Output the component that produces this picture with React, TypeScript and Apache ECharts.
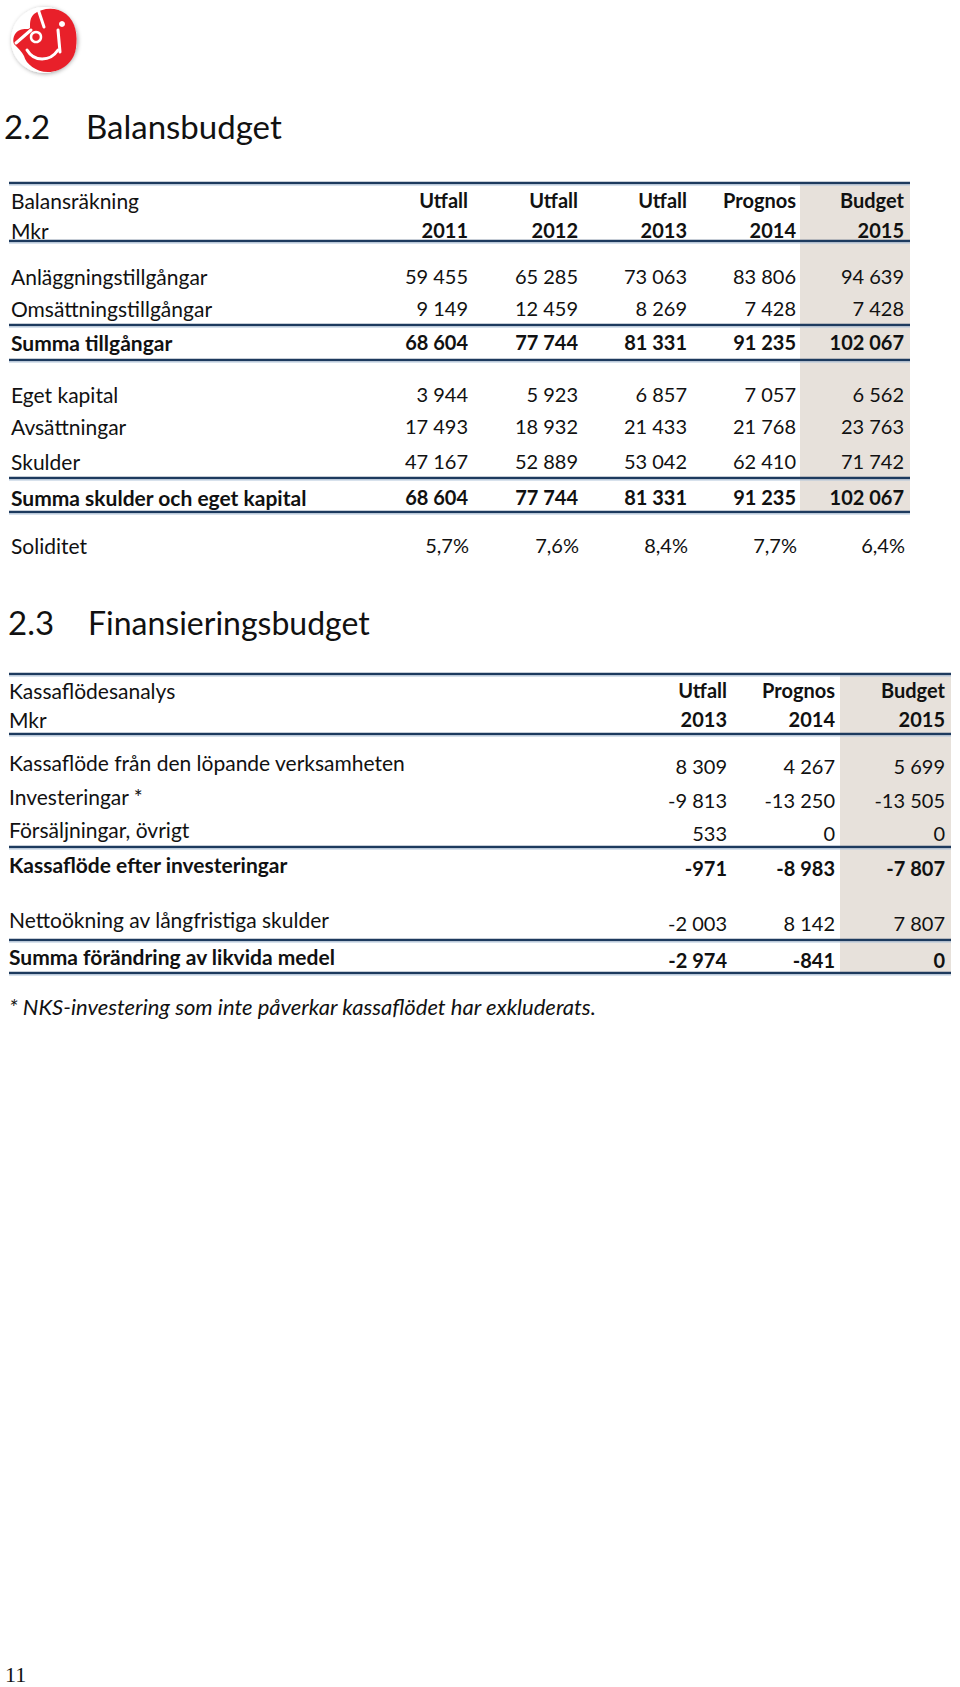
import React, { useEffect, useRef } from 'react';
import * as echarts from 'echarts';

// ---------- Data ----------
const balansNumber = '2.2';
const balansHeading = 'Balansbudget';
const balansCaption = ['Balansräkning', 'Mkr'];
const balansColTop = ['Utfall', 'Utfall', 'Utfall', 'Prognos', 'Budget'];
const balansColYear = ['2011', '2012', '2013', '2014', '2015'];
const balansLabels = [
  'Anläggningstillgångar',
  'Omsättningstillgångar',
  'Summa tillgångar',
  'Eget kapital',
  'Avsättningar',
  'Skulder',
  'Summa skulder och eget kapital',
];
const balansBold = [false, false, true, false, false, false, true];
const anlaggning = [59455, 65285, 73063, 83806, 94639];
const omsattning = [9149, 12459, 8269, 7428, 7428];
const summaTillgangar = [68604, 77744, 81331, 91235, 102067];
const egetKapital = [3944, 5923, 6857, 7057, 6562];
const avsattningar = [17493, 18932, 21433, 21768, 23763];
const skulder = [47167, 52889, 53042, 62410, 71742];
const summaSkulder = [68604, 77744, 81331, 91235, 102067];
const soliditetLabel = 'Soliditet';
const soliditet = [5.7, 7.6, 8.4, 7.7, 6.4];

const finansNumber = '2.3';
const finansHeading = 'Finansieringsbudget';
const finansCaption = ['Kassaflödesanalys', 'Mkr'];
const finansColTop = ['Utfall', 'Prognos', 'Budget'];
const finansColYear = ['2013', '2014', '2015'];
const finansLabels = [
  'Kassaflöde från den löpande verksamheten',
  'Investeringar *',
  'Försäljningar, övrigt',
  'Kassaflöde efter investeringar',
  'Nettoökning av långfristiga skulder',
  'Summa förändring av likvida medel',
];
const finansBold = [false, false, false, true, false, true];
const lopande = [8309, 4267, 5699];
const investeringar = [-9813, -13250, -13505];
const forsaljningar = [533, 0, 0];
const efterInvesteringar = [-971, -8983, -7807];
const nettookning = [-2003, 8142, 7807];
const summaForandring = [-2974, -841, 0];
const footnote = '* NKS-investering som inte påverkar kassaflödet har exkluderats.';
const pageNumber = '11';

// ---------- Layout ----------
const FONT = 'Lato, "Open Sans", sans-serif';
const INK = '#111111';
const SHADE = '#E7E1DB';
const RULE_DARK = '#1D3A5E';
const RULE_LIGHT = '#AFC3DA';
const LABEL_SIZE = 21;
const NUM_SIZE = 20;

const t1 = {
  left: 9,
  right: 910,
  labelX: 11,
  colRight: [468, 578, 687, 796, 904],
  shadeX: 800,
  rules: [183, 241, 325, 360, 478, 512],
  headY: [200, 230],
  rowY: [276, 308, 342, 394, 426, 461, 497],
  solY: 545,
};
const t2 = {
  left: 9,
  right: 951,
  labelX: 9,
  colRight: [727, 835, 945],
  shadeX: 840,
  rules: [674, 734, 847, 940, 973],
  headY: [690, 719],
  rowY: [766, 800, 833, 868, 923, 960],
  labelShift: -4,
};

function fmt(v: number): string {
  const neg = v < 0;
  const s = String(Math.abs(v)).replace(/\B(?=(\d{3})+(?!\d))/g, ' ');
  return (neg ? '-' : '') + s;
}
function pct(v: number): string {
  return v.toFixed(1).replace('.', ',') + '%';
}

function txt(x: number, y: number, text: string, opts: any = {}) {
  const align = opts.align || 'left';
  return {
    type: 'text',
    x,
    y,
    silent: true,
    style: {
      text,
      fill: opts.fill || INK,
      fontSize: opts.size || NUM_SIZE,
      fontFamily: opts.family || FONT,
      fontWeight: opts.bold ? 'bold' : 'normal',
      fontStyle: opts.italic ? 'italic' : 'normal',
      align,
      textAlign: align,
      verticalAlign: 'middle',
      textVerticalAlign: 'middle',
    },
  };
}

function rule(x1: number, x2: number, y: number) {
  return [
    {
      type: 'line',
      silent: true,
      shape: { x1, y1: y, x2, y2: y },
      style: { stroke: RULE_DARK, lineWidth: 2.5 },
    },
    {
      type: 'line',
      silent: true,
      shape: { x1, y1: y + 2, x2, y2: y + 2 },
      style: { stroke: RULE_LIGHT, lineWidth: 1 },
    },
  ];
}

function buildElements() {
  const els: any[] = [];

  // Logo (simplified rose)
  els.push({
    type: 'circle',
    silent: true,
    shape: { cx: 44, cy: 40, r: 33 },
    style: { fill: '#ffffff', shadowBlur: 4, shadowColor: 'rgba(0,0,0,0.35)', shadowOffsetX: 1, shadowOffsetY: 1 },
  });
  els.push({
    type: 'rose',
    silent: true,
    x: 12,
    y: 6,
    scaleX: 1,
    scaleY: 1,
    style: { fill: '#E8202A' },
  });
  const white = { stroke: '#ffffff', lineWidth: 3, fill: 'none', lineCap: 'round' };
  els.push({ type: 'bezierCurve', silent: true, shape: { x1: 27, y1: 50, cpx1: 34, cpy1: 62, cpx2: 50, cpy2: 62, x2: 58, y2: 50 }, style: white });
  els.push({ type: 'line', silent: true, shape: { x1: 58, y1: 30, x2: 60, y2: 52 }, style: white });
  els.push({ type: 'line', silent: true, shape: { x1: 16, y1: 43, x2: 31, y2: 30 }, style: white });
  els.push({ type: 'line', silent: true, shape: { x1: 38, y1: 9, x2: 44, y2: 27 }, style: white });
  els.push({ type: 'circle', silent: true, shape: { cx: 36, cy: 37, r: 5 }, style: { stroke: '#ffffff', lineWidth: 2.5, fill: '#E8202A' } });
  els.push({ type: 'circle', silent: true, shape: { cx: 62, cy: 24, r: 3 }, style: { fill: '#ffffff' } });

  // ---------- Section 2.2 ----------
  els.push(txt(4, 126, balansNumber, { size: 33 }));
  els.push(txt(86, 126, balansHeading, { size: 33 }));

  els.push({
    type: 'rect',
    silent: true,
    shape: { x: t1.shadeX, y: t1.rules[0], width: t1.right - t1.shadeX, height: t1.rules[t1.rules.length - 1] - t1.rules[0] },
    style: { fill: SHADE },
  });
  t1.rules.forEach((y) => els.push(...rule(t1.left, t1.right, y)));

  els.push(txt(t1.labelX, t1.headY[0], balansCaption[0], { size: LABEL_SIZE }));
  els.push(txt(t1.labelX, t1.headY[1], balansCaption[1], { size: LABEL_SIZE }));
  balansColTop.forEach((h, i) => els.push(txt(t1.colRight[i], t1.headY[0], h, { align: 'right', bold: true })));
  balansColYear.forEach((h, i) => els.push(txt(t1.colRight[i], t1.headY[1], h, { align: 'right', bold: true })));

  const balansRows = [anlaggning, omsattning, summaTillgangar, egetKapital, avsattningar, skulder, summaSkulder];
  balansRows.forEach((vals, r) => {
    const y = t1.rowY[r];
    els.push(txt(t1.labelX, y, balansLabels[r], { bold: balansBold[r], size: LABEL_SIZE }));
    vals.forEach((v, c) => els.push(txt(t1.colRight[c], y, fmt(v), { align: 'right', bold: balansBold[r] })));
  });
  els.push(txt(t1.labelX, t1.solY, soliditetLabel, { size: LABEL_SIZE }));
  soliditet.forEach((v, c) => els.push(txt(t1.colRight[c] + 1, t1.solY, pct(v), { align: 'right' })));

  // ---------- Section 2.3 ----------
  els.push(txt(8, 622, finansNumber, { size: 33 }));
  els.push(txt(88, 622, finansHeading, { size: 32 }));

  els.push({
    type: 'rect',
    silent: true,
    shape: { x: t2.shadeX, y: t2.rules[0], width: t2.right - t2.shadeX, height: t2.rules[t2.rules.length - 1] - t2.rules[0] },
    style: { fill: SHADE },
  });
  t2.rules.forEach((y) => els.push(...rule(t2.left, t2.right, y)));

  els.push(txt(t2.labelX, t2.headY[0], finansCaption[0], { size: LABEL_SIZE }));
  els.push(txt(t2.labelX, t2.headY[1], finansCaption[1], { size: LABEL_SIZE }));
  finansColTop.forEach((h, i) => els.push(txt(t2.colRight[i], t2.headY[0], h, { align: 'right', bold: true })));
  finansColYear.forEach((h, i) => els.push(txt(t2.colRight[i], t2.headY[1], h, { align: 'right', bold: true })));

  const finansRows = [lopande, investeringar, forsaljningar, efterInvesteringar, nettookning, summaForandring];
  finansRows.forEach((vals, r) => {
    const y = t2.rowY[r];
    els.push(txt(t2.labelX, y + t2.labelShift, finansLabels[r], { bold: finansBold[r], size: LABEL_SIZE }));
    vals.forEach((v, c) => els.push(txt(t2.colRight[c], y, fmt(v), { align: 'right', bold: finansBold[r] })));
  });

  els.push(txt(9, 1006, footnote, { italic: true, size: 22 }));

  els.push(txt(5, 1674, pageNumber, { size: 22, family: '"Liberation Serif", "DejaVu Serif", serif' }));

  return els;
}

let shapeRegistered = false;
function registerRose() {
  if (shapeRegistered) return;
  const d =
    'M22 8 C30 2 44 0 54 8 C64 16 66 30 64 42 C62 56 50 66 36 66 C24 66 14 58 12 50 ' +
    'C10 46 6 42 2 38 C0 34 2 26 8 24 C12 22 16 24 18 22 C18 16 18 12 22 8 Z';
  echarts.graphic.registerShape('rose', echarts.graphic.extendPath(d, {}));
  shapeRegistered = true;
}

export default function App() {
  const ref = useRef<HTMLDivElement>(null);
  useEffect(() => {
    if (!ref.current) return;
    registerRose();
    const chart = echarts.init(ref.current, undefined, { renderer: 'svg' });
    chart.setOption({
      animation: false,
      backgroundColor: '#ffffff',
      graphic: { elements: buildElements() },
    });
    return () => chart.dispose();
  }, []);
  return (
    <div
      ref={ref}
      style={{ position: 'absolute', left: 0, top: 0, width: 960, height: 1687, background: '#fff' }}
    />
  );
}
